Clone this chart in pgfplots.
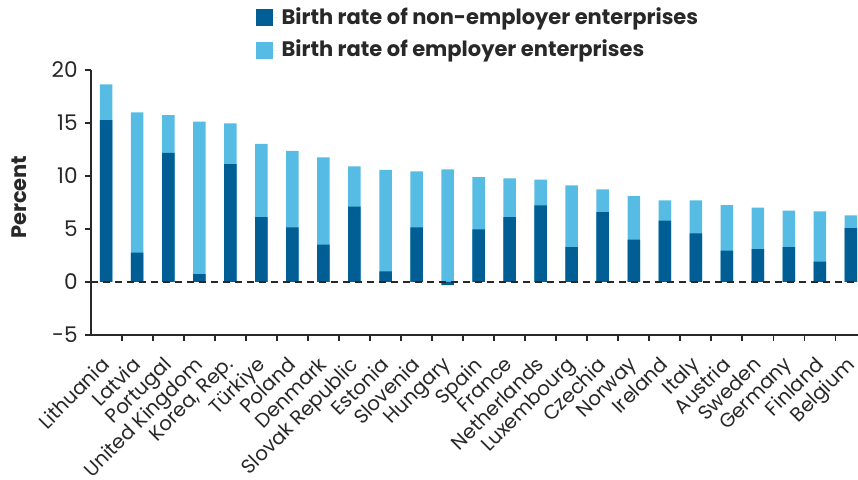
\documentclass[border=0pt]{standalone}
\usepackage{fontspec}
\setmainfont{Poppins}
\usepackage{pgfplots}
\pgfplotsset{compat=1.18}
\usepackage{pgfplotstable}
\definecolor{darkb}{RGB}{0,94,148}
\definecolor{lightb}{RGB}{87,188,227}
\definecolor{axgray}{RGB}{40,40,40}
\pgfplotstableread[col sep=comma]{
idx,total,nonemp
0,18.65,15.28
1,16.00,2.76
2,15.75,12.17
3,15.12,0.75
4,14.97,11.13
5,13.02,6.13
6,12.36,5.16
7,11.76,3.52
8,10.91,7.10
9,10.57,1.00
10,10.44,5.16
11,10.63,-0.30
12,9.90,4.97
13,9.78,6.13
14,9.65,7.23
15,9.12,3.30
16,8.74,6.60
17,8.11,3.99
18,7.70,5.79
19,7.70,4.59
20,7.26,2.96
21,7.01,3.11
22,6.73,3.30
23,6.67,1.92
24,6.29,5.09
}\rates
\begin{document}
\begin{tikzpicture}
\path[use as bounding box] (-45.35pt,-72.5pt) rectangle (383.65pt,167.5pt);
\begin{axis}[
  at={(0pt,0pt)}, anchor=south west,
  scale only axis, width=387.9pt, height=132.5pt,
  xmin=-0.5, xmax=24.5, ymin=-5, ymax=20,
  axis x line=bottom, axis y line=left,
  axis line style={-, axgray, line width=0.9pt},
  tick align=outside,
  ytick={-5,0,5,10,15,20},
  major tick length=3pt, minor tick length=3pt,
  tick style={axgray, line width=0.9pt},
  xtick={0,...,24},
  major x tick style={draw=none},
  minor xtick={0.5,1.5,...,23.5},
  xticklabels={Lithuania,Latvia,Portugal,United Kingdom,{Korea, Rep.},Türkiye,Poland,Denmark,Slovak Republic,Estonia,Slovenia,Hungary,Spain,France,Netherlands,Luxembourg,Czechia,Norway,Ireland,Italy,Austria,Sweden,Germany,Finland,Belgium},
  xticklabel style={xshift=-3pt, yshift=-7pt, rotate=45, anchor=north east, inner sep=0pt, font=\fontsize{9.9}{11}\selectfont, text=axgray},
  yticklabel style={font=\fontsize{10.8}{11}\selectfont, text=axgray},
  /pgf/number format/assume math mode=true,
  every axis y label/.style={at={(axis description cs:-0.0924,0.52)}, rotate=90, anchor=center, font=\fontsize{10.5}{11}\selectfont\bfseries, text=axgray},
  ylabel={Percent},
  ybar, bar width=6.25pt, bar shift=0pt,
  legend style={at={(0.212,1.253)}, anchor=north west, draw=none, fill=none, inner sep=0pt,
    font=\fontsize{10.5}{11}\selectfont\bfseries, text=axgray, row sep=2.5pt,
    legend cell align=left},
  legend image code/.code={\fill[#1] (0pt,-4.25pt) rectangle (8.5pt,4.25pt); \path (0pt,0pt) -- (11pt,0pt);},
]
\addlegendimage{fill=darkb, draw=none}
\addlegendentry{Birth rate of non-employer enterprises}
\addlegendimage{fill=lightb, draw=none}
\addlegendentry{Birth rate of employer enterprises}
\addplot[fill=lightb, draw=none, forget plot] table[x=idx, y=total] {\rates};
\addplot[fill=darkb, draw=none, forget plot] table[x=idx, y=nonemp] {\rates};
\draw[axgray, line width=0.9pt, dash pattern=on 3.5pt off 2.5pt] (axis cs:-0.5,0) -- (axis cs:24.5,0);
\end{axis}
\end{tikzpicture}
\end{document}
